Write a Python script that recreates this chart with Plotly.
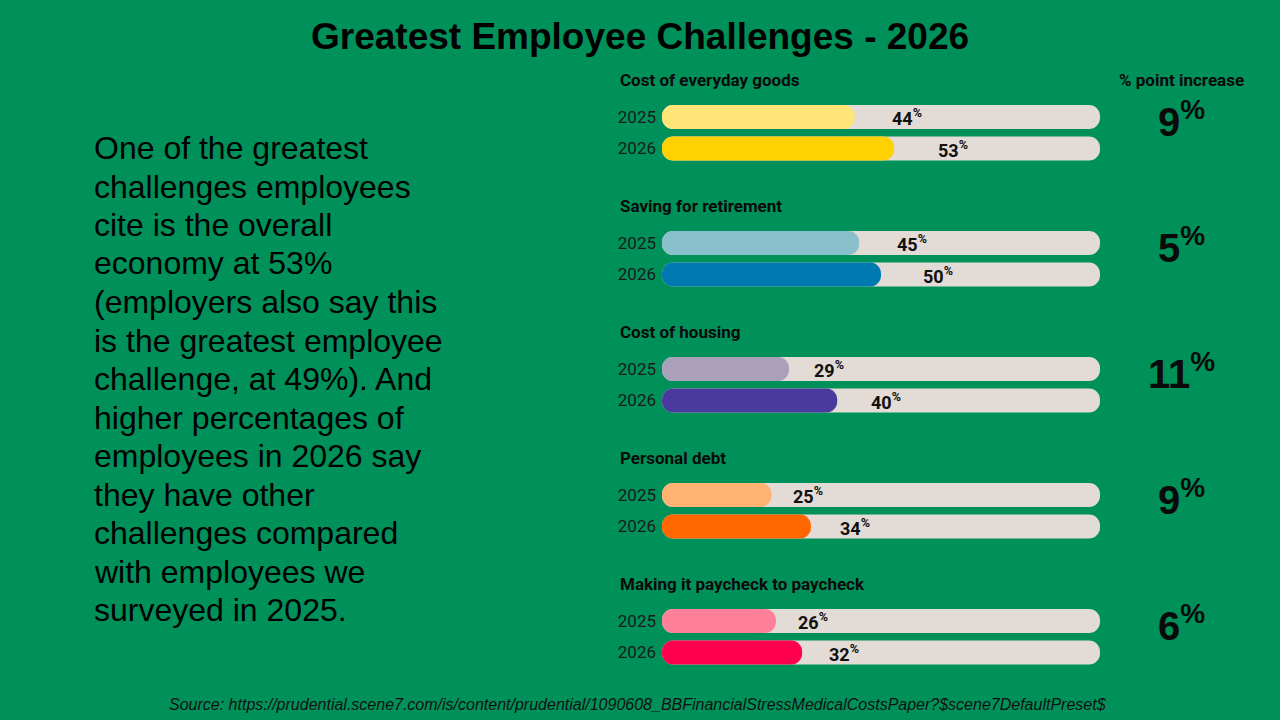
import plotly.graph_objects as go

W, H = 1280, 720
BG = "#00915A"

categories = ["Cost of everyday goods", "Saving for retirement", "Cost of housing",
              "Personal debt", "Making it paycheck to paycheck"]
years = ["2025", "2026"]
values_2025 = [44, 45, 29, 25, 26]
values_2026 = [53, 50, 40, 34, 32]
increase = [9, 5, 11, 9, 6]
colors_2025 = ["#FFE577", "#8ABFCC", "#ABA0BB", "#FFB272", "#FF8099"]
colors_2026 = ["#FFD100", "#0078B0", "#4B3A9E", "#FF6600", "#FF0050"]
TRACK = "#E3DBD6"
FULL = 100

body_lines = ["One of the greatest", "challenges employees", "cite is the overall",
              "economy at 53%", "(employers also say this", "is the greatest employee",
              "challenge, at 49%). And", "higher percentages of",
              "employees in 2026 say", "they have other", "challenges compared",
              "with employees we", "surveyed in 2025."]
title = "Greatest Employee Challenges - 2026"
source = "Source: https://prudential.scene7.com/is/content/prudential/1090608_BBFinancialStressMedicalCostsPaper?$scene7DefaultPreset$"

# layout geometry (pixels)
x0_px, x1_px = 662, 1100
first_bar_px = 117
unit_px = 31.5
group_pitch = 4
bar_w = 0.76
radius = 12

ypos, xvals, cols = [], [], []
for i in range(len(categories)):
    for j, (vals, cs) in enumerate([(values_2025, colors_2025), (values_2026, colors_2026)]):
        ypos.append(i * group_pitch + j)
        xvals.append(vals[i])
        cols.append(cs[i])

fig = go.Figure()
fig.add_trace(go.Bar(y=ypos, base=[0] * len(ypos), x=[FULL] * len(ypos), orientation="h",
                     marker=dict(color=TRACK, cornerradius=radius, line=dict(width=0)),
                     width=bar_w, showlegend=False, hoverinfo="skip"))
fig.add_trace(go.Bar(y=ypos, base=[0] * len(ypos), x=xvals, orientation="h",
                     marker=dict(color=cols, cornerradius=radius, line=dict(width=0)),
                     width=bar_w, showlegend=False,
                     hovertemplate="%{x}%<extra></extra>"))

cond = "Roboto, Liberation Sans, Arial, sans-serif"
arial = "Liberation Sans, Arial, sans-serif"
ann = []
for y, v in zip(ypos, xvals):
    ann.append(dict(x=v * 1.183 + 3.8, y=y, xref="x", yref="y",
                    text=f"<b>{v}<sup>%</sup></b>", showarrow=False, xanchor="center",
                    font=dict(family=cond, size=18, color="#111111")))
for i, c in enumerate(categories):
    ann.append(dict(x=618 / W, y=i * group_pitch - 1.17, xref="paper", yref="y",
                    text=f"<b>{c}</b>", showarrow=False, xanchor="left",
                    font=dict(family=cond, size=17, color="#0a0a0a")))
    ann.append(dict(x=1181 / W, y=i * group_pitch + 0.05, xref="paper", yref="y",
                    text=f"<b>{increase[i]}<sup>%</sup></b>", showarrow=False,
                    xanchor="center",
                    font=dict(family=arial, size=40, color="#0a0a0a")))
ann.append(dict(x=1181 / W, y=-1.17, xref="paper", yref="y", text="<b>% point increase</b>",
                showarrow=False, xanchor="center",
                font=dict(family=cond, size=17, color="#0a0a0a")))
ann.append(dict(x=0.5, y=1 - 36 / H, xref="paper", yref="paper", text=f"<b>{title}</b>",
                showarrow=False, xanchor="center", yanchor="middle",
                font=dict(family=arial, size=37, color="#000000")))
line_pitch = 38.5
for k, line in enumerate(body_lines):
    ann.append(dict(x=92 / W, y=1 - (148 + k * line_pitch) / H, xref="paper", yref="paper",
                    text=line, showarrow=False, xanchor="left", yanchor="middle",
                    align="left", font=dict(family=arial, size=32, color="#000000")))
ann.append(dict(x=638 / W, y=1 - 704 / H, xref="paper", yref="paper",
                text=f"<i>{source}</i>", showarrow=False, xanchor="center", yanchor="middle",
                font=dict(family=arial, size=16, color="#111111")))

y_top = -first_bar_px / unit_px
y_bot = (H - first_bar_px) / unit_px
fig.update_layout(
    width=W, height=H, margin=dict(l=0, r=0, t=0, b=0),
    paper_bgcolor=BG, plot_bgcolor=BG, barmode="overlay",
    xaxis=dict(domain=[x0_px / W, x1_px / W], range=[0, FULL], visible=False),
    yaxis=dict(range=[y_bot, y_top], tickmode="array", tickvals=ypos,
               ticktext=[years[p % group_pitch] for p in ypos], showgrid=False,
               zeroline=False, showline=False, ticks="", ticklabelstandoff=5,
               tickfont=dict(family=cond, size=17, color="#1a1a1a")),
    annotations=ann,
)
fig.write_html("out.html", config={"displayModeBar": False},
               post_script="document.body.style.margin='0';")
